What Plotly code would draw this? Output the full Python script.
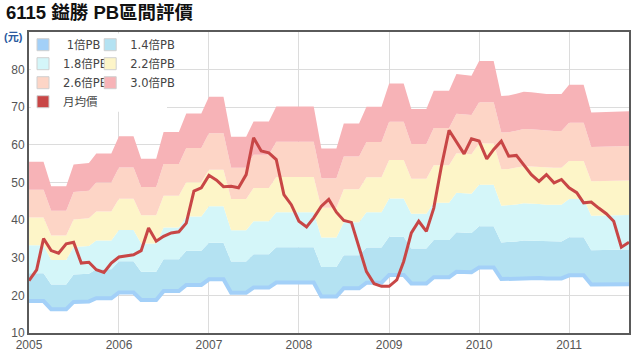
import pandas as pd
import plotly.graph_objects as go

# monthly dates 2005-01 .. 2011-09
months = pd.date_range("2005-01-01", "2011-09-01", freq="MS")

# book value per share (read from the 3.0x band / 3)
bvps = [18.5, 18.5, 18.5, 16.33, 16.33, 16.33, 18.27, 18.33, 18.4, 19.23, 19.23, 19.23,
        20.77, 20.77, 20.77, 18.77, 18.77, 18.77, 21.13, 21.13, 21.13, 22.77, 22.77, 22.77,
        24.27, 24.27, 24.27, 20.73, 20.73, 20.73, 22.07, 22.07, 22.07, 23.4, 23.4, 23.4,
        23.4, 23.4, 23.4, 19.67, 19.67, 19.67, 21.9, 21.9, 21.9, 23.37, 23.37, 23.37,
        25.43, 25.43, 25.43, 23.17, 23.17, 23.17, 24.8, 24.8, 24.8, 26.27, 26.2, 26.13,
        27.43, 27.43, 27.43, 24.33, 24.37, 24.53, 24.7, 24.67, 24.6, 24.5, 24.5, 24.5,
        25.33, 25.33, 25.33, 22.87, 22.9, 22.9, 22.93, 22.97, 22.97]

# monthly average price
price = [23.9, 26.8, 35.1, 31.9, 31.2, 33.7, 34.1, 28.6, 28.8, 26.8, 26.1, 28.6,
         30.2, 30.6, 30.8, 31.9, 37.9, 34.4, 35.7, 36.6, 36.9, 39.2, 47.7, 48.6,
         51.9, 50.6, 48.9, 49.0, 48.6, 52.1, 61.9, 58.4, 57.9, 56.1, 46.8, 44.1,
         39.7, 38.2, 40.6, 43.7, 45.5, 42.1, 39.9, 39.4, 33.0, 26.3, 23.1, 22.4,
         22.4, 24.1, 29.0, 36.6, 39.7, 37.0, 43.2, 54.3, 63.9, 60.7, 57.6, 61.6,
         61.0, 56.3, 58.8, 61.0, 57.0, 57.2, 54.8, 52.1, 50.3, 52.1, 49.9, 50.8,
         48.6, 47.3, 44.6, 44.8, 43.2, 41.7, 39.7, 32.8, 34.1]

multiples = [1.0, 1.4, 1.8, 2.2, 2.6, 3.0]
band_names = [" 1倍PB", "1.4倍PB", "1.8倍PB", "2.2倍PB", "2.6倍PB", "3.0倍PB"]
band_colors = ["#a3d0f8", "#b4e2f2", "#d4f6f9", "#fdf5c8", "#fdd5c6", "#f7b3b7"]
price_name = "月均價"
price_color = "#c84646"

title_text = "6115 鎰勝 PB區間評價"
unit_text = "(元)"

FONT = "Arial, 'Liberation Sans', 'Noto Sans CJK TC', sans-serif"
LFONT = "'DejaVu Sans', 'Noto Sans CJK TC', sans-serif"

fig = go.Figure()

for i, (m, col) in enumerate(zip(multiples, band_colors)):
    yv = [round(b * m, 2) for b in bvps]
    if i == 0:
        fig.add_trace(go.Scatter(x=months, y=yv, mode="lines",
                                 line=dict(color=col, width=4),
                                 showlegend=False, hoverinfo="skip"))
    else:
        fig.add_trace(go.Scatter(x=months, y=yv, mode="lines", fill="tonexty",
                                 fillcolor=col, line=dict(color=col, width=0),
                                 showlegend=False, hoverinfo="skip"))

fig.add_trace(go.Scatter(x=months, y=price, mode="lines", name=price_name,
                         line=dict(color=price_color, width=3),
                         showlegend=False))

# legend swatches
legend_map = ["legend", "legend2", "legend", "legend2", "legend", "legend2"]
for name, col, lg in zip(band_names, band_colors, legend_map):
    fig.add_trace(go.Bar(x=[None], y=[None], name=name, legend=lg,
                         marker=dict(color=col, line=dict(color="#d0d0d0", width=1))))
fig.add_trace(go.Bar(x=[None], y=[None], name=price_name, legend="legend",
                     marker=dict(color=price_color, line=dict(color="#d0d0d0", width=1))))

years = [str(y) for y in range(2005, 2012)]

fig.update_layout(
    width=640, height=356,
    margin=dict(l=29, r=11, t=32, b=23, autoexpand=False),
    paper_bgcolor="white", plot_bgcolor="white",
    font=dict(family=FONT, size=12, color="#555"),
    showlegend=True,
    legend=dict(x=-0.01, y=1.006, xanchor="left", yanchor="top",
                bgcolor="rgba(255,255,255,0)", font=dict(size=11.5, color="#444", family=LFONT),
                tracegroupgap=0, itemwidth=30, traceorder="normal"),
    legend2=dict(x=0.102, y=1.006, xanchor="left", yanchor="top",
                 bgcolor="rgba(255,255,255,0)", font=dict(size=11.5, color="#444", family=LFONT),
                 tracegroupgap=0, itemwidth=30, traceorder="normal"),
    xaxis=dict(type="date", range=["2005-01-01", "2011-09-01"],
               tickvals=[f"{y}-01-01" for y in years], ticktext=years,
               showgrid=True, gridcolor="#dcdcdc", gridwidth=1,
               showline=True, linecolor="#5a5a5a", linewidth=2, mirror=True,
               ticks="", tickfont=dict(size=12, color="#555"), layer="above traces",
               zeroline=False),
    yaxis=dict(range=[10, 90], tickvals=[10, 20, 30, 40, 50, 60, 70, 80],
               showgrid=True, gridcolor="#dcdcdc", gridwidth=1,
               showline=True, linecolor="#5a5a5a", linewidth=2, mirror=True,
               ticks="", tickfont=dict(size=12, color="#555"), layer="above traces",
               zeroline=False),
    shapes=[
        dict(type="rect", xref="paper", yref="paper", x0=0.003, x1=0.23, y0=0.735, y1=0.995,
             fillcolor="white", line=dict(width=0), layer="above"),
    ],
    annotations=[
        dict(text=f"<b>{title_text}</b>", x=-0.0417, y=1.1047, xref="paper", yref="paper",
             xanchor="left", yanchor="top", showarrow=False,
             font=dict(size=18.5, color="#111", family=FONT)),
        dict(text=f"<b>{unit_text}</b>", x=-0.045, y=0.982, xref="paper", yref="paper",
             xanchor="left", yanchor="middle", showarrow=False,
             font=dict(size=11, color="#2a5aa0", family=FONT)),
    ],
)

# remove the default 8px page margin so the figure fills the 640x356 window
fig.write_html("out.html", config={"displayModeBar": False},
               post_script="document.body.style.margin='0';")
